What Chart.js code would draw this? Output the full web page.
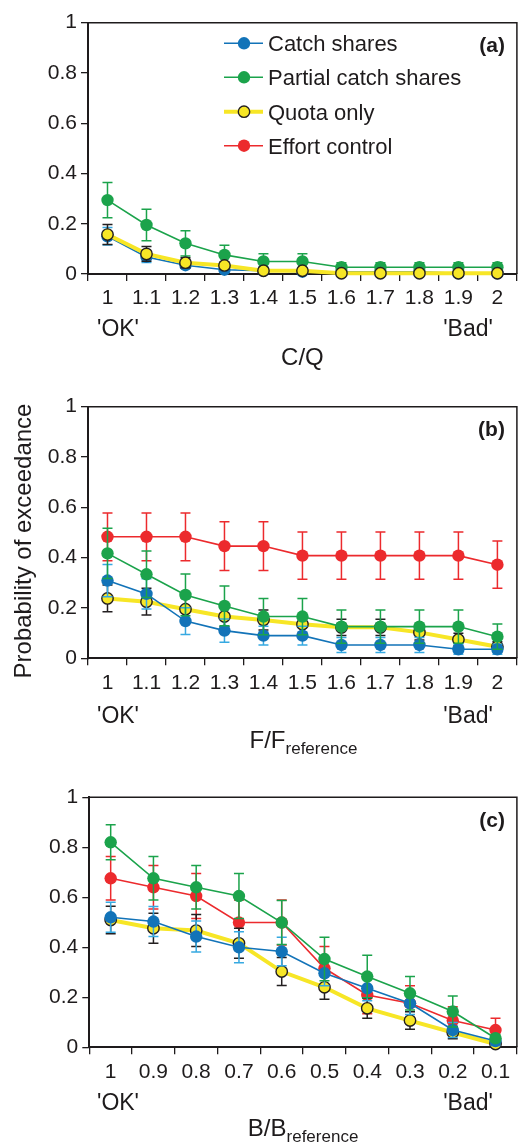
<!DOCTYPE html>
<html><head><meta charset="utf-8">
<script src="https://cdn.jsdelivr.net/npm/chart.js@4.4.1/dist/chart.umd.min.js"></script>
<style>
html,body{margin:0;padding:0;background:#fff;}
body{width:524px;height:1143px;position:relative;overflow:hidden;}
canvas{position:absolute;left:0;}
</style></head><body>
<canvas id="ca" width="524" height="370" style="top:0px"></canvas>
<canvas id="cb" width="524" height="390" style="top:370px"></canvas>
<canvas id="cc" width="524" height="383" style="top:760px"></canvas>
<script>
// ---------- data ----------
const seriesNames = ['Catch shares', 'Partial catch shares', 'Quota only', 'Effort control'];
const yTickLabels = ['0', '0.2', '0.4', '0.6', '0.8', '1'];

const catA = ['1','1.1','1.2','1.3','1.4','1.5','1.6','1.7','1.8','1.9','2'];
const aCatch       = [0.150, 0.068, 0.035, 0.017, 0.013, 0.009, 0.009, 0.009, 0.009, 0.003, 0.003];
const aCatchErr    = [0.035, 0.022, 0.012, 0.008, 0.006, 0.005, 0.005, 0.005, 0.005, 0.003, 0.003];
const aPartial     = [0.294, 0.195, 0.122, 0.076, 0.050, 0.050, 0.027, 0.027, 0.027, 0.027, 0.027];
const aPartialErr  = [0.070, 0.063, 0.050, 0.038, 0.031, 0.031, 0.018, 0.018, 0.018, 0.018, 0.018];
const aQuota       = [0.157, 0.080, 0.045, 0.034, 0.013, 0.013, 0.003, 0.003, 0.003, 0.003, 0.003];
const aQuotaErr    = [0.040, 0.029, 0.020, 0.014, 0.008, 0.008, 0.003, 0.003, 0.003, 0.003, 0.003];

const catB = ['1','1.1','1.2','1.3','1.4','1.5','1.6','1.7','1.8','1.9','2'];
const bCatch       = [0.309, 0.256, 0.148, 0.110, 0.090, 0.090, 0.053, 0.053, 0.053, 0.036, 0.036];
const bCatchErr    = [0.064, 0.060, 0.053, 0.046, 0.037, 0.037, 0.030, 0.030, 0.030, 0.020, 0.020];
const bPartial     = [0.417, 0.334, 0.252, 0.208, 0.166, 0.166, 0.126, 0.126, 0.126, 0.126, 0.086];
const bPartialErr  = [0.100, 0.092, 0.083, 0.079, 0.072, 0.072, 0.066, 0.066, 0.066, 0.066, 0.050];
const bQuota       = [0.238, 0.225, 0.195, 0.166, 0.152, 0.135, 0.123, 0.123, 0.103, 0.075, 0.046];
const bQuotaErr    = [0.053, 0.053, 0.045, 0.040, 0.040, 0.035, 0.032, 0.032, 0.030, 0.025, 0.020];
const bEffort      = [0.483, 0.483, 0.483, 0.446, 0.446, 0.408, 0.408, 0.408, 0.408, 0.408, 0.372];
const bEffortErr   = [0.095, 0.095, 0.095, 0.097, 0.097, 0.094, 0.094, 0.094, 0.094, 0.094, 0.094];

const catC = ['1','0.9','0.8','0.7','0.6','0.5','0.4','0.3','0.2','0.1'];
const cCatch       = [0.520, 0.503, 0.443, 0.400, 0.383, 0.296, 0.236, 0.176, 0.069, 0.025];
const cCatchErr    = [0.060, 0.060, 0.062, 0.062, 0.057, 0.050, 0.050, 0.045, 0.030, 0.018];
const cPartial     = [0.820, 0.676, 0.640, 0.605, 0.499, 0.353, 0.283, 0.216, 0.143, 0.036];
const cPartialErr  = [0.070, 0.087, 0.087, 0.090, 0.088, 0.087, 0.085, 0.067, 0.062, 0.015];
const cQuota       = [0.509, 0.476, 0.467, 0.416, 0.303, 0.240, 0.156, 0.107, 0.059, 0.013];
const cQuotaErr    = [0.055, 0.060, 0.064, 0.060, 0.056, 0.048, 0.040, 0.035, 0.025, 0.010];
const cEffort      = [0.676, 0.640, 0.605, 0.499, 0.499, 0.316, 0.209, 0.176, 0.107, 0.069];
const cEffortErr   = [0.087, 0.087, 0.090, 0.090, 0.090, 0.087, 0.075, 0.070, 0.055, 0.047];

const okText = "'OK'";
const badText = "'Bad'";

// ---------- styles ----------
const FONT = "'Liberation Sans', Arial, Helvetica, sans-serif";
const INK = '#1e1b1c';
const ST = [
  {line:'#1273b8', fill:'#1273b8', pb:'#1273b8', pbw:0, r:6.2, lw:1.6, err:'#36a9e1'},
  {line:'#1ba34b', fill:'#1ba34b', pb:'#1ba34b', pbw:0, r:6.2, lw:1.6, err:'#1ba34b'},
  {line:'#f7e626', fill:'#f7e626', pb:'#231f20', pbw:1.4, r:5.7, lw:4, err:'#231f20'},
  {line:'#ec2a2d', fill:'#ec2a2d', pb:'#ec2a2d', pbw:0, r:6.2, lw:1.6, err:'#ec2a2d'}
];

function ds(k, data, err, order) {
  const s = ST[k];
  return {label: seriesNames[k], data, errors: err, borderColor: s.line, backgroundColor: s.fill,
    pointBackgroundColor: s.fill, pointBorderColor: s.pb, pointBorderWidth: s.pbw,
    pointRadius: s.r, pointHoverRadius: s.r, borderWidth: s.lw, errorColor: s.err,
    tension: 0, clip: false, order};
}

const errorBars = {
  id: 'errorBars',
  beforeDatasetDraw(chart, args) {
    const d = chart.data.datasets[args.index];
    if (!d.errors) return;
    const ys = chart.scales.y, ctx = chart.ctx;
    ctx.save();
    ctx.strokeStyle = d.errorColor; ctx.lineWidth = 1.5;
    args.meta.data.forEach((pt, j) => {
      const v = d.data[j], e = d.errors[j];
      if (v == null) return;
      const x = pt.x, yt = ys.getPixelForValue(v + e), yb = ys.getPixelForValue(Math.max(0, v - e));
      ctx.beginPath();
      ctx.moveTo(x, yt); ctx.lineTo(x, yb);
      ctx.moveTo(x - 5, yt); ctx.lineTo(x + 5, yt);
      ctx.moveTo(x - 5, yb); ctx.lineTo(x + 5, yb);
      ctx.stroke();
    });
    ctx.restore();
  }
};

function capText(ctx, txt, x, cy, size, bold, align) {
  ctx.font = (bold ? 'bold ' : '') + size + 'px ' + FONT;
  ctx.textAlign = align || 'center';
  ctx.textBaseline = 'alphabetic';
  ctx.fillText(txt, x, cy + 0.358 * size);
}

const decor = {
  id: 'decor',
  afterDraw(chart, args, o) {
    const ctx = chart.ctx, a = chart.chartArea;
    ctx.save();
    ctx.strokeStyle = INK; ctx.lineWidth = 1.5;
    ctx.beginPath();
    ctx.moveTo(a.left, a.top); ctx.lineTo(a.right, a.top); ctx.lineTo(a.right, a.bottom);
    ctx.stroke();
    ctx.fillStyle = INK;
    // panel label
    capText(ctx, o.panel, a.right - 12, a.top + 22, 21, true, 'right');
    // OK / Bad
    capText(ctx, okText, 118, a.bottom + o.okDy, 23);
    capText(ctx, badText, 468, a.bottom + o.okDy, 23);
    // x title
    const cx = (a.left + a.right) / 2 + o.titleShift;
    const ty = a.bottom + o.titleDy;
    ctx.font = '24px ' + FONT;
    const mw = ctx.measureText(o.xTitle).width;
    ctx.font = '17px ' + FONT;
    const sw = o.xSub ? ctx.measureText(o.xSub).width : 0;
    const x0 = cx - (mw + sw) / 2;
    capText(ctx, o.xTitle, x0, ty, 24, false, 'left');
    if (o.xSub) {
      ctx.font = '17px ' + FONT; ctx.textAlign = 'left'; ctx.textBaseline = 'alphabetic';
      ctx.fillText(o.xSub, x0 + mw, ty + 0.358 * 24 + 6);
    }
    // y title
    if (o.yTitle) {
      ctx.save();
      ctx.translate(31, o.yTitleY);
      ctx.rotate(-Math.PI / 2);
      ctx.font = '24px ' + FONT; ctx.textAlign = 'center'; ctx.textBaseline = 'alphabetic';
      ctx.fillText(o.yTitle, 0, 0);
      ctx.restore();
    }
    // legend
    if (o.legend) {
      const ly = [43.3, 77.3, 111.7, 145.7];
      seriesNames.forEach((n, k) => {
        const s = ST[k], y = ly[k];
        ctx.strokeStyle = s.line; ctx.lineWidth = s.lw;
        ctx.beginPath(); ctx.moveTo(224, y); ctx.lineTo(263, y); ctx.stroke();
        ctx.beginPath(); ctx.arc(244, y, s.r, 0, Math.PI * 2);
        ctx.fillStyle = s.fill; ctx.fill();
        if (s.pbw) { ctx.strokeStyle = s.pb; ctx.lineWidth = s.pbw; ctx.stroke(); }
        ctx.fillStyle = INK;
        capText(ctx, n, 268, y, 22, false, 'left');
      });
    }
    ctx.restore();
  }
};

function makeChart(id, H, area, labels, datasets, dec) {
  return new Chart(document.getElementById(id), {
    type: 'line',
    data: {labels, datasets},
    plugins: [errorBars, decor],
    options: {
      responsive: false, animation: false, devicePixelRatio: 1,
      layout: {padding: {left: 0, top: area.top, right: 524 - area.right, bottom: 0}},
      plugins: {legend: {display: false}, tooltip: {enabled: false}, decor: dec},
      scales: {
        x: {
          type: 'category', offset: true,
          afterFit: s => { s.height = H - area.bottom; },
          grid: {offset: true, drawOnChartArea: false, drawTicks: true, tickLength: 7, color: INK, lineWidth: 1.3},
          border: {display: true, color: INK, width: 2},
          ticks: {padding: 5, autoSkip: false, maxRotation: 0, color: INK, font: {family: FONT, size: 21}}
        },
        y: {
          min: 0, max: 1,
          afterFit: s => { s.width = area.left; },
          grid: {drawOnChartArea: false, drawTicks: true, tickLength: 7, color: INK, lineWidth: 1.3},
          border: {display: true, color: INK, width: 2},
          ticks: {stepSize: 0.2, padding: 4, color: INK, font: {family: FONT, size: 21},
                  callback: (v, i) => yTickLabels[i]}
        }
      }
    }
  });
}

makeChart('ca', 370, {left: 88, right: 522, top: 22.7, bottom: 274}, catA, [
  ds(0, aCatch, aCatchErr, 3),
  ds(1, aPartial, aPartialErr, 2),
  ds(2, aQuota, aQuotaErr, 1)
], {panel: '(a)', okDy: 54, titleDy: 82.5, titleShift: 0, xTitle: 'C/Q', xSub: '', legend: true});

makeChart('cb', 390, {left: 88, right: 522, top: 36.7, bottom: 288.3}, catB, [
  ds(3, bEffort, bEffortErr, 4),
  ds(2, bQuota, bQuotaErr, 3),
  ds(0, bCatch, bCatchErr, 2),
  ds(1, bPartial, bPartialErr, 1)
], {panel: '(b)', okDy: 56.5, titleDy: 81, titleShift: 1, xTitle: 'F/F', xSub: 'reference',
    yTitle: 'Probability of exceedance', yTitleY: 171});

makeChart('cc', 383, {left: 89.3, right: 520.7, top: 37.3, bottom: 287.3}, catC, [
  ds(3, cEffort, cEffortErr, 4),
  ds(2, cQuota, cQuotaErr, 3),
  ds(0, cCatch, cCatchErr, 2),
  ds(1, cPartial, cPartialErr, 1)
], {panel: '(c)', okDy: 54, titleDy: 80.5, titleShift: 0, xTitle: 'B/B', xSub: 'reference'});
</script>
</body></html>
